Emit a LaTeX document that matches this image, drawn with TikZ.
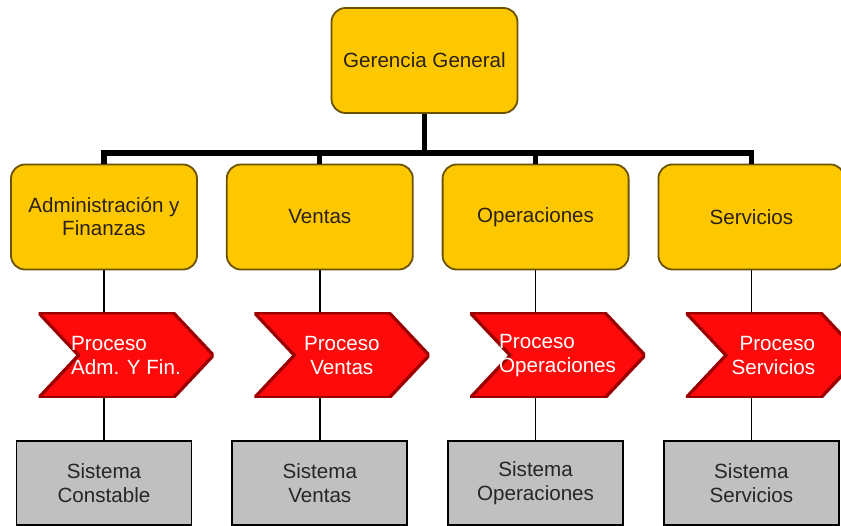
\documentclass[tikz,border=0pt]{standalone}
\usepackage{fontspec}
\setmainfont{Liberation Sans}
\usetikzlibrary{
	positioning
}
\definecolor{areacolor}{HTML}{FDC800}
\definecolor{areaborder}{HTML}{6B5200}
\definecolor{proccolor}{HTML}{FF0A0A}
\definecolor{procborder}{HTML}{9A0000}
\definecolor{syscolor}{HTML}{C0C0C0}
\definecolor{textcolor}{HTML}{2B2118}
\tikzset{
	areanode/.style={
		draw=areaborder,
		fill=areacolor,
		rounded corners=7pt,
		minimum width=93pt,
		minimum height=52.5pt,
		line width=0.9pt,
		align=center,
		text=textcolor,
		font=\fontsize{10.3}{11.5}\selectfont
	},
	procnode/.style={
		shape=rectangle,
		minimum width=87.5pt,
		minimum height=42.5pt,
		inner sep=0pt,
		text=white,
		font=\fontsize{10.3}{12}\selectfont,
		path picture={
			\draw[procborder, fill=proccolor, line width=1.6pt, line join=miter]
			(path picture bounding box.north west)
			-- ([xshift=-20pt]path picture bounding box.north east)
			-- (path picture bounding box.east)
			-- ([xshift=-20pt]path picture bounding box.south east)
			-- (path picture bounding box.south west)
			-- ([xshift=20pt]path picture bounding box.west)
			-- cycle;
		}
	},
	sysnode/.style={
		draw=black,
		fill=syscolor,
		minimum width=87.5pt,
		minimum height=42pt,
		line width=0.9pt,
		align=center,
		text=black!85,
		font=\fontsize{10.3}{12}\selectfont
	},
	busline/.style={
		line width=2.6pt,
		color=black
	},
	link/.style={
		line width=0.8pt,
		color=black
	}
}

\begin{document}
\begin{tikzpicture}[x=0.5pt, y=-0.5pt, node distance=21pt and 14pt]

	\useasboundingbox (0,0) rectangle (841,525);

	% Nodes
	% Top: general management
	\node[areanode] (gerencia) at (424.5,60.5) {Gerencia General};

	% Second row: areas
	\node[areanode] (admin) at (104,217) {Administración y\\Finanzas};
	\node[areanode, right=of admin] (ventas) {Ventas};
	\node[areanode, right=of ventas] (operaciones) {Operaciones};
	\node[areanode, right=of operaciones] (servicios) {Servicios};

	% Third row: processes
	\node[procnode, align=left, below=of admin, xshift=11pt] (procadm)
	{Proceso\\Adm. Y Fin.};
	\node[procnode, align=center, below=of ventas, xshift=11pt] (procven)
	{Proceso\\Ventas};
	\node[procnode, align=left, below=of operaciones, xshift=11pt] (procope)
	{Proceso\\Operaciones};
	\node[procnode, align=right, below=of servicios, xshift=11pt] (procser)
	{Proceso\\Servicios};

	% Bottom row: systems
	\node[sysnode, below=of procadm, xshift=-11pt] (sisadm) {Sistema\\Constable};
	\node[sysnode, below=of procven, xshift=-11pt] (sisven) {Sistema\\Ventas};
	\node[sysnode, below=of procope, xshift=-11pt] (sisope) {Sistema\\Operaciones};
	\node[sysnode, below=of procser, xshift=-11pt] (sisser) {Sistema\\Servicios};

	% Connectors
	% Management to areas
	\coordinate[below=19.5pt of gerencia] (bus);
	\draw[busline] (gerencia.south) -- (bus);
	\draw[busline] (admin.north) |- (bus) -| (servicios.north);
	\draw[busline] (ventas.north) -- (ventas.north |- bus);
	\draw[busline] (operaciones.north) -- (operaciones.north |- bus);

	% Areas to processes
	\draw[link] (admin.south) -- (admin.south |- procadm.north);
	\draw[link] (ventas.south) -- (ventas.south |- procven.north);
	\draw[link] (operaciones.south) -- (operaciones.south |- procope.north);
	\draw[link] (servicios.south) -- (servicios.south |- procser.north);

	% Processes to systems
	\draw[link] (sisadm.north |- procadm.south) -- (sisadm.north);
	\draw[link] (sisven.north |- procven.south) -- (sisven.north);
	\draw[link] (sisope.north |- procope.south) -- (sisope.north);
	\draw[link] (sisser.north |- procser.south) -- (sisser.north);

\end{tikzpicture}
\end{document}
